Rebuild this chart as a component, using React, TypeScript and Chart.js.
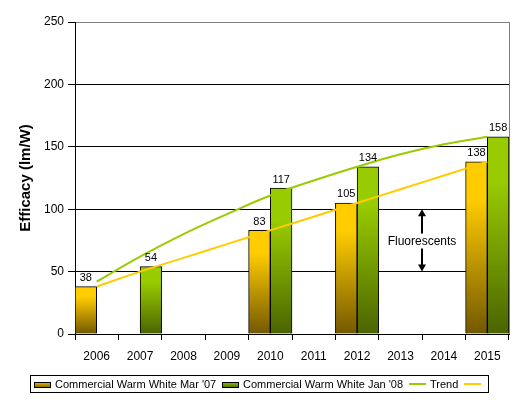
import React, { useEffect, useRef } from "react";
import { Chart, registerables } from "chart.js";

Chart.register(...registerables);

// Years on the category axis
const years = ["2006", "2007", "2008", "2009", "2010", "2011", "2012", "2013", "2014", "2015"];

// Measured efficacy (lm/W) of commercial warm white LEDs
const warmWhiteMar07: (number | null)[] = [38, null, null, null, 83, null, 105, null, null, 138];
const warmWhiteJan08: (number | null)[] = [null, 54, null, null, 117, null, 134, null, null, 158];

// Trend curves through the two series
const trendJan08 = [42, 62, 80, 96, 111, 123, 134, 144, 152, 158];
const trendMar07 = [38, 50, 61, 72, 83, 94, 105, 116, 127, 138];

// Y axis ticks
const yTicks = [0, 50, 100, 150, 200, 250];

// Range marked as the fluorescent band
const fluorescentRange = [50, 100];
const fluorescentLabel = "Fluorescents";

const legendItems = [
  { kind: "box", color: "linear-gradient(#e0b000, #8a6a00)", text: "Commercial Warm White Mar '07", swatchX: 34, textX: 55 },
  { kind: "box", color: "linear-gradient(#88b800, #557000)", text: "Commercial Warm White Jan '08", swatchX: 222, textX: 243 },
  { kind: "line", color: "#99CC00", text: "Trend", swatchX: 409, textX: 430 },
  { kind: "line", color: "#FFCC00", text: "", swatchX: 464, textX: 0 },
];

const FONT = "Arial, 'Liberation Sans', sans-serif";

function barGradient(top: string, bottom: string) {
  return (ctx: any) => {
    const chart = ctx.chart;
    if (!chart.chartArea || ctx.type !== "data" || ctx.raw == null) return top;
    const ys = chart.scales.y;
    const y0 = ys.getPixelForValue(ctx.raw);
    const y1 = ys.getPixelForValue(0);
    const g = chart.ctx.createLinearGradient(0, y0, 0, y1);
    g.addColorStop(0, top);
    g.addColorStop(0.22, top);
    g.addColorStop(1, bottom);
    return g;
  };
}

const overlayPlugin = {
  id: "overlay",
  afterDatasetsDraw(chart: any) {
    const { ctx, chartArea, scales } = chart;
    ctx.save();
    // gray right border of the plot area
    ctx.strokeStyle = "#808080";
    ctx.lineWidth = 1;
    ctx.beginPath();
    ctx.moveTo(Math.round(chartArea.right) + 0.5, chartArea.top);
    ctx.lineTo(Math.round(chartArea.right) + 0.5, chartArea.bottom);
    ctx.stroke();

    // value labels above the bars
    ctx.fillStyle = "#000";
    ctx.font = `11px ${FONT}`;
    ctx.textAlign = "center";
    ctx.textBaseline = "bottom";
    chart.data.datasets.forEach((ds: any, i: number) => {
      if (ds.type !== "bar") return;
      const meta = chart.getDatasetMeta(i);
      meta.data.forEach((el: any, j: number) => {
        const v = ds.data[j];
        if (v == null) return;
        ctx.fillText(String(v), el.x, el.y - 3);
      });
    });

    // fluorescent band: double arrow with label
    const x = Math.round((scales.x.getPixelForValue(7) + scales.x.getPixelForValue(8)) / 2);
    const yTop = scales.y.getPixelForValue(fluorescentRange[1]);
    const yBot = scales.y.getPixelForValue(fluorescentRange[0]);
    const yMid = (yTop + yBot) / 2;
    ctx.strokeStyle = "#000";
    ctx.lineWidth = 2;
    ctx.beginPath();
    ctx.moveTo(x, yTop + 5);
    ctx.lineTo(x, yMid - 7);
    ctx.moveTo(x, yMid + 8);
    ctx.lineTo(x, yBot - 5);
    ctx.stroke();
    ctx.fillStyle = "#000";
    ctx.beginPath();
    ctx.moveTo(x, yTop);
    ctx.lineTo(x - 4, yTop + 7);
    ctx.lineTo(x + 4, yTop + 7);
    ctx.closePath();
    ctx.fill();
    ctx.beginPath();
    ctx.moveTo(x, yBot);
    ctx.lineTo(x - 4, yBot - 7);
    ctx.lineTo(x + 4, yBot - 7);
    ctx.closePath();
    ctx.fill();
    ctx.font = `12px ${FONT}`;
    ctx.textBaseline = "middle";
    ctx.fillText(fluorescentLabel, x, yMid + 1);
    ctx.restore();
  },
};

export default function App() {
  const canvasRef = useRef<HTMLCanvasElement | null>(null);

  useEffect(() => {
    if (!canvasRef.current) return;
    const chart = new Chart(canvasRef.current, {
      type: "bar",
      data: {
        labels: years,
        datasets: [
          {
            type: "line",
            label: "Trend",
            data: trendJan08,
            borderColor: "#99CC00",
            borderWidth: 2,
            pointRadius: 0,
            tension: 0.4,
            fill: false,
            order: 0,
          } as any,
          {
            type: "line",
            label: "",
            data: trendMar07,
            borderColor: "#FFCC00",
            borderWidth: 2,
            pointRadius: 0,
            tension: 0.4,
            fill: false,
            order: 0,
          } as any,
          {
            type: "bar",
            label: "Commercial Warm White Mar '07",
            data: warmWhiteMar07,
            backgroundColor: barGradient("#FFCC00", "#735800"),
            borderColor: "#000",
            borderWidth: 1,
            categoryPercentage: 1,
            barPercentage: 1,
            order: 1,
          } as any,
          {
            type: "bar",
            label: "Commercial Warm White Jan '08",
            data: warmWhiteJan08,
            backgroundColor: barGradient("#99CC00", "#4A6400"),
            borderColor: "#000",
            borderWidth: 1,
            categoryPercentage: 1,
            barPercentage: 1,
            order: 1,
          } as any,
        ],
      },
      options: {
        responsive: false,
        animation: false,
        devicePixelRatio: 1,
        layout: { padding: { left: 0, top: 22, right: 11, bottom: 0 } },
        plugins: {
          legend: { display: false },
          tooltip: { enabled: false },
        },
        scales: {
          x: {
            grid: {
              offset: true,
              drawOnChartArea: false,
              drawTicks: true,
              tickLength: 6,
              color: "#000",
              tickColor: "#000",
            },
            border: { color: "#000", width: 1 },
            ticks: { color: "#000", font: { family: FONT, size: 12 }, padding: 9, maxRotation: 0 },
            afterFit: (s: any) => {
              s.height = 66;
            },
          },
          y: {
            min: 0,
            max: 250,
            afterBuildTicks: (s: any) => {
              s.ticks = yTicks.map((v) => ({ value: v }));
            },
            grid: {
              color: (c: any) => (c.tick && c.tick.value === 250 ? "#808080" : "#000"),
              tickColor: "#000",
              tickLength: 7,
              lineWidth: 1,
            },
            border: { color: "#000", width: 1 },
            ticks: { color: "#000", font: { family: FONT, size: 12 }, padding: 4 },
            title: {
              display: true,
              text: "Efficacy (lm/W)",
              color: "#000",
              font: { family: FONT, size: 15, weight: "bold" },
              padding: { top: 17, bottom: 0 },
            },
            afterFit: (s: any) => {
              s.width = 75;
            },
          },
        },
      },
      plugins: [overlayPlugin],
    });
    return () => chart.destroy();
  }, []);

  return (
    <div style={{ position: "absolute", left: 0, top: 0, width: 520, height: 400, background: "#fff" }}>
      <canvas ref={canvasRef} width={520} height={400} style={{ display: "block" }} />
      <div
        style={{
          position: "absolute",
          left: 30,
          top: 375,
          width: 457,
          height: 16,
          border: "1px solid #000",
          boxSizing: "content-box",
          fontFamily: FONT,
          fontSize: 11,
          color: "#000",
        }}
      >
        {legendItems.map((it, i) => (
          <React.Fragment key={i}>
            {it.kind === "box" ? (
              <div
                style={{
                  position: "absolute",
                  left: it.swatchX - 31,
                  top: 6,
                  width: 15,
                  height: 4,
                  border: "1px solid #000",
                  background: it.color,
                }}
              />
            ) : (
              <div
                style={{
                  position: "absolute",
                  left: it.swatchX - 31,
                  top: 7,
                  width: 17,
                  height: 2,
                  background: it.color,
                }}
              />
            )}
            {it.text ? (
              <span
                style={{
                  position: "absolute",
                  left: it.textX - 31,
                  top: 1,
                  lineHeight: "14px",
                  whiteSpace: "nowrap",
                }}
              >
                {it.text}
              </span>
            ) : null}
          </React.Fragment>
        ))}
      </div>
    </div>
  );
}
